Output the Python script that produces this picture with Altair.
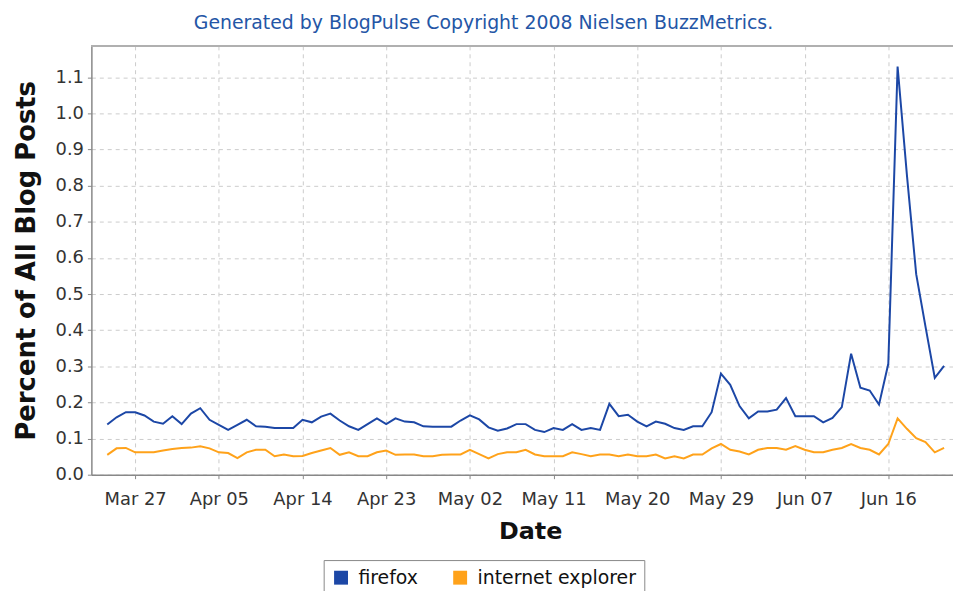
import altair as alt
import pandas as pd

dates = pd.date_range("2008-03-24", "2008-06-22", freq="D").strftime("%Y-%m-%d").tolist()

firefox = [
    0.139, 0.159, 0.173, 0.173, 0.164, 0.147, 0.141, 0.162,
    0.140, 0.169, 0.184, 0.152, 0.138, 0.124, 0.138, 0.152, 0.134, 0.133,
    0.129, 0.129, 0.129, 0.152, 0.145, 0.161, 0.169, 0.150, 0.134, 0.124,
    0.140, 0.156, 0.140, 0.156, 0.147, 0.145, 0.134, 0.133, 0.133, 0.133,
    0.150, 0.164, 0.153, 0.131, 0.122, 0.128, 0.140, 0.140, 0.124, 0.118,
    0.129, 0.124, 0.140, 0.124, 0.129, 0.124, 0.196, 0.162, 0.166, 0.147,
    0.134, 0.147, 0.141, 0.129, 0.124, 0.134, 0.134, 0.173, 0.280, 0.249,
    0.190,
    0.156, 0.175, 0.175, 0.180, 0.212, 0.162, 0.162, 0.162, 0.145, 0.157,
    0.187, 0.335, 0.241, 0.233, 0.194, 0.307, 1.130, 0.830, 0.555, 0.410,
    0.268, 0.301,
]

internet_explorer = [
    0.055, 0.073, 0.074, 0.062, 0.062, 0.062, 0.067, 0.071,
    0.074, 0.075, 0.079, 0.073, 0.062, 0.060, 0.046, 0.062, 0.069, 0.069,
    0.051, 0.056, 0.051, 0.052, 0.060, 0.067, 0.074, 0.055, 0.062, 0.051,
    0.051, 0.062, 0.067, 0.055, 0.056, 0.056, 0.051, 0.051, 0.055, 0.056,
    0.056, 0.069, 0.057, 0.045, 0.057, 0.062, 0.062, 0.069, 0.056, 0.051,
    0.051, 0.051, 0.062, 0.057, 0.051, 0.056, 0.056, 0.051, 0.056, 0.051,
    0.051, 0.056, 0.045, 0.051, 0.045, 0.056, 0.056, 0.073, 0.085, 0.069,
    0.064,
    0.056, 0.069, 0.074, 0.074, 0.069, 0.079, 0.069, 0.062, 0.062, 0.069,
    0.074, 0.085, 0.074, 0.069, 0.056, 0.085, 0.156, 0.127, 0.101, 0.090,
    0.062, 0.074,
]

series_names = ["firefox", "internet explorer"]
series_colors = ["#1c47a6", "#ffa21a"]

tick_dates = [(3, 27), (4, 5), (4, 14), (4, 23), (5, 2), (5, 11), (5, 20), (5, 29), (6, 7), (6, 16)]
y_ticks = [round(i * 0.1, 1) for i in range(12)]

rows = []
for d, f, ie in zip(dates, firefox, internet_explorer):
    rows.append({"date": d, "series": "firefox", "value": f})
    rows.append({"date": d, "series": "internet explorer", "value": ie})
df = pd.DataFrame(rows)

W, H = 868, 432
FONT = "DejaVu Sans"

x_axis = alt.Axis(
    values=[alt.DateTime(year=2008, month=m, date=d, utc=True) for m, d in tick_dates],
    labelExpr="utcFormat(datum.value, '%b %d')",
    title="Date",
    grid=True,
    gridDash=[4, 4],
    gridColor="#cccccc",
    labelFontSize=18,
    titleFontSize=24,
    titlePadding=11,
    labelPadding=12,
    titleX=W / 2 + 8,
)

y_axis = alt.Axis(
    values=y_ticks,
    format=".1f",
    title="Percent of All Blog Posts",
    grid=True,
    gridDash=[4, 4],
    gridColor="#cccccc",
    labelFontSize=18,
    titleFontSize=26,
    titlePadding=16,
    labelPadding=4,
)

lines = alt.Chart(df).mark_line(strokeWidth=2).encode(
    x=alt.X(
        "date:T",
        axis=x_axis,
        scale=alt.Scale(
            type="utc",
            domain=[
                alt.DateTime(year=2008, month=3, date=22, hours=7, utc=True),
                alt.DateTime(year=2008, month=6, date=22, hours=23, utc=True),
            ],
        ),
    ),
    y=alt.Y("value:Q", axis=y_axis, scale=alt.Scale(domain=[0, 1.187], nice=False, zero=True)),
    color=alt.Color(
        "series:N",
        scale=alt.Scale(domain=series_names, range=series_colors),
        legend=alt.Legend(
            title=None,
            orient="none",
            legendX=234,
            legendY=518,
            direction="horizontal",
            symbolType="square",
            symbolSize=36,
            symbolStrokeWidth=8,
            labelFontSize=19,
            labelFont=FONT,
            labelColor="#111111",
            labelOffset=8,
            labelLimit=400,
            columnPadding=22,
            strokeColor="#888888",
            fillColor="#ffffff",
            padding=8,
        ),
    ),
)

top_border = alt.Chart(df).mark_rule(color="#b0b0b0", strokeWidth=2).encode(
    x=alt.value(0), x2=alt.value(W), y=alt.value(0)
)

chart = alt.layer(lines, top_border).properties(
    width=W,
    height=H,
    title=alt.TitleParams(
        "Generated by BlogPulse Copyright 2008 Nielsen BuzzMetrics.",
        fontSize=19,
        font=FONT,
        fontWeight="normal",
        color="#2456a6",
        anchor="middle",
        dx=-39,
        offset=12,
    ),
    autosize=alt.AutoSizeParams(type="none"),
    padding={"left": 84, "top": 36, "right": 0, "bottom": 115},
).configure_view(stroke=None).configure_axis(
    labelFont=FONT,
    titleFont=FONT,
    labelColor="#333333",
    titleColor="#111111",
    domainColor="#888888",
    domainWidth=1.5,
    tickColor="#888888",
    tickSize=4,
    titleFontWeight="bold",
)

chart.save("out.html", embed_options={"renderer": "svg", "actions": False})
